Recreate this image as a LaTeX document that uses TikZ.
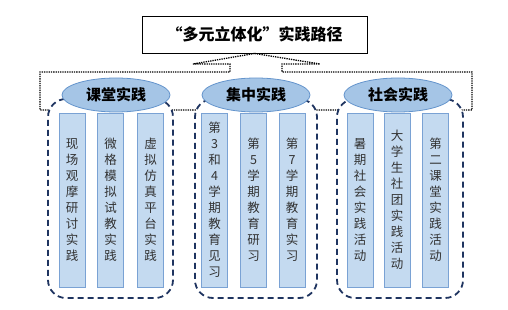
\documentclass[tikz,border=0pt]{standalone}
\usepackage{fontspec}
\setmainfont{Noto Sans CJK SC}
\usetikzlibrary{shapes.geometric}
\definecolor{ellfill}{RGB}{165,197,230}
\definecolor{ellborder}{RGB}{100,148,204}
\definecolor{barfill}{RGB}{196,218,240}
\definecolor{barborder}{RGB}{122,162,212}
\definecolor{bartext}{RGB}{50,50,50}
\definecolor{navy}{RGB}{31,52,96}
\tikzset{
  titlebox/.style={draw=black, line width=0.9pt, fill=white, minimum width=225, minimum height=37, inner sep=0, font=\bfseries\fontsize{16}{16}\selectfont},
  ellip/.style={ellipse, draw=ellborder, fill=ellfill, line width=0.8pt, minimum width=108, minimum height=34, inner sep=0, font=\bfseries\fontsize{15}{15}\selectfont},
  barbox/.style={draw=barborder, fill=barfill, line width=0.8pt, minimum width=26, minimum height=174, inner sep=0, align=center, text=bartext, font=\fontsize{12.5}{16}\selectfont},
  grp/.style={draw=navy, fill=white, line width=1.8pt, dash pattern=on 6pt off 4pt, rounded corners=18, minimum height=199, inner sep=0},
  dots/.style={densely dotted, line width=1.3pt, black}
}
\begin{document}
\begin{tikzpicture}[x=1pt,y=-1pt]
\useasboundingbox (0,0) rectangle (508,310);
\node[titlebox] (title) at (254.5,34.5) {“多元立体化”实践路径};
\coordinate (bl1) at (193,64);
\coordinate (bl2) at (230,64);
\coordinate (bl3) at (230,72);
\coordinate (fl1) at (40,72);
\coordinate (fl2) at (40,110);
\coordinate (fr2) at (472,110);
\coordinate (fr1) at (472,72);
\coordinate (br3) at (282,72);
\coordinate (br2) at (282,64);
\coordinate (br1) at (320,64);
\draw[dots] (title.south) -- (bl1) -- (bl2) -- (bl3) -- (fl1) -- (fl2) -- (fr2) -- (fr1) -- (br3) -- (br2) -- (br1) -- (title.south);
% groups
\node[grp, minimum width=125] (g1) at (110.5,198.5) {};
\node[grp, minimum width=122] (g2) at (256,198.5) {};
\node[grp, minimum width=126] (g3) at (400,198.5) {};
% bars group 1
\node[barbox] (a1) at (72,200) {现\\场\\观\\摩\\研\\讨\\实\\践};
\node[barbox] (a2) at (110.5,200) {微\\格\\模\\拟\\试\\教\\实\\践};
\node[barbox] (a3) at (150.5,200) {虚\\拟\\仿\\真\\平\\台\\实\\践};
% bars group 2
\node[barbox] (b1) at (214.5,200) {第\\3\\和\\4\\学\\期\\教\\育\\见\\习};
\node[barbox] (b2) at (253.5,200) {第\\5\\学\\期\\教\\育\\研\\习};
\node[barbox] (b3) at (292,200) {第\\7\\学\\期\\教\\育\\实\\习};
% bars group 3
\node[barbox] (c1) at (360,200) {暑\\期\\社\\会\\实\\践\\活\\动};
\node[barbox] (c2) at (397,200) {大\\学\\生\\社\\团\\实\\践\\活\\动};
\node[barbox] (c3) at (435.5,200) {第\\二\\课\\堂\\实\\践\\活\\动};
% ellipses
\node[ellip] (e1) at (116,95) {课堂实践};
\node[ellip] (e2) at (256,95) {集中实践};
\node[ellip] (e3) at (398,95) {社会实践};
\end{tikzpicture}
\end{document}
